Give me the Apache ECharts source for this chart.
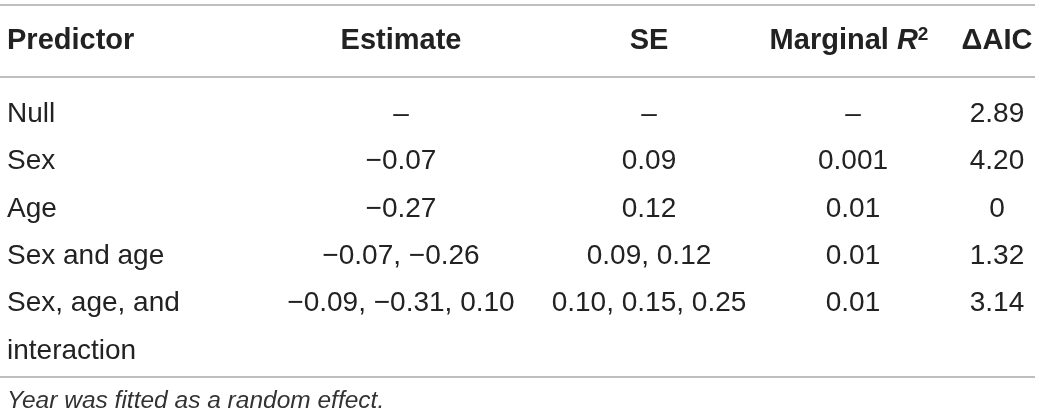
<!DOCTYPE html>
<html>
<head>
<meta charset="utf-8">
<title>Predictor table</title>
<script src="https://cdn.jsdelivr.net/npm/echarts@6/dist/echarts.min.js"></script>
<style>
  html, body { margin: 0; padding: 0; background: #fff; }
  #main { width: 1040px; height: 420px; }
</style>
</head>
<body>
<div id="main"></div>
<script>
// table contents
var columns = ['Predictor', 'Estimate', 'SE', 'Marginal R2', '\u0394AIC'];
var predictors = ['Null', 'Sex', 'Age', 'Sex and age', 'Sex, age, and\ninteraction'];
var estimates = ['\u2013', '\u22120.07', '\u22120.27', '\u22120.07, \u22120.26', '\u22120.09, \u22120.31, 0.10'];
var se = ['\u2013', '0.09', '0.12', '0.09, 0.12', '0.10, 0.15, 0.25'];
var marginalR2 = ['\u2013', '0.001', '0.01', '0.01', '0.01'];
var deltaAIC = ['2.89', '4.20', '0', '1.32', '3.14'];
var footnote = 'Year was fitted as a random effect.';

// layout: column anchors (px) and alignment, header / footnote line
var colX = [7, 401, 649, 853, 997];
var colAlign = ['left', 'center', 'center', 'center', 'center'];
var headerLine = -1.55;
var footLine = 6.05;
var FONT = '"Liberation Sans", "Helvetica Neue", Arial, sans-serif';
var TEXT = '#222';

var body = [predictors, estimates, se, marginalR2, deltaAIC];
var cells = [];
body.forEach(function (col, c) {
    col.forEach(function (txt, r) {
        cells.push([c, r, txt]);
    });
});

var Chart = echarts.init(document.getElementById('main'), null, {renderer: 'canvas'});

function cellItem(params, api) {
    var c = api.value(0);
    var r = api.value(1);
    var p = api.coord([colX[c], r]);
    var lh = api.size([0, 1])[1];
    return {
        type: 'text',
        x: p[0],
        y: p[1] - lh / 2,
        style: {
            text: cells[params.dataIndex][2],
            font: '28px ' + FONT,
            fill: TEXT,
            align: colAlign[c],
            verticalAlign: 'top',
            lineHeight: lh
        }
    };
}

function headerItem(params, api) {
    var c = api.value(0);
    var p = api.coord([colX[c], headerLine]);
    var txt = columns[c];
    var rich = null;
    if (c === 3) {
        txt = '{b|Marginal }{i|R}{s|2}';
        rich = {
            b: {fontFamily: FONT, fontWeight: 'bold', fontSize: 29, fill: TEXT},
            i: {fontFamily: FONT, fontWeight: 'bold', fontStyle: 'italic', fontSize: 29, fill: TEXT},
            s: {fontFamily: FONT, fontWeight: 'bold', fontSize: 19, fill: TEXT, verticalAlign: 'top', padding: [0, 0, 12, 0]}
        };
    }
    return {
        type: 'text',
        x: c === 3 ? p[0] - 4 : p[0],
        y: p[1],
        style: {
            text: txt,
            rich: rich,
            font: 'bold 29px ' + FONT,
            fill: TEXT,
            align: colAlign[c],
            verticalAlign: 'middle'
        }
    };
}

var option = {
    animation: false,
    grid: {left: 0, right: 0, top: 114, bottom: 69},
    xAxis: {type: 'value', min: 0, max: 1040, show: false},
    yAxis: {type: 'value', min: 0, max: 5, inverse: true, show: false},
    graphic: [
        {type: 'line', shape: {x1: 0, y1: 5, x2: 1035, y2: 5}, style: {stroke: '#a8a8a8', lineWidth: 1.5}},
        {type: 'line', shape: {x1: 0, y1: 77, x2: 1035, y2: 77}, style: {stroke: '#a8a8a8', lineWidth: 1.5}},
        {type: 'line', shape: {x1: 0, y1: 377, x2: 1035, y2: 377}, style: {stroke: '#a8a8a8', lineWidth: 1.5}}
    ],
    series: [
        {
            type: 'custom',
            name: 'header',
            silent: true,
            renderItem: headerItem,
            data: columns.map(function (c, i) { return [i, headerLine]; })
        },
        {
            type: 'custom',
            name: 'cells',
            silent: true,
            renderItem: cellItem,
            data: cells.map(function (d) { return [d[0], d[1]]; })
        },
        {
            type: 'custom',
            name: 'footnote',
            silent: true,
            renderItem: function (params, api) {
                var p = api.coord([colX[0], footLine]);
                return {
                    type: 'text',
                    x: p[0],
                    y: p[1],
                    style: {
                        text: footnote,
                        font: 'italic 24.5px ' + FONT,
                        fill: '#333',
                        align: 'left',
                        verticalAlign: 'middle'
                    }
                };
            },
            data: [[0, footLine]]
        }
    ]
};
Chart.setOption(option);
</script>
</body>
</html>
